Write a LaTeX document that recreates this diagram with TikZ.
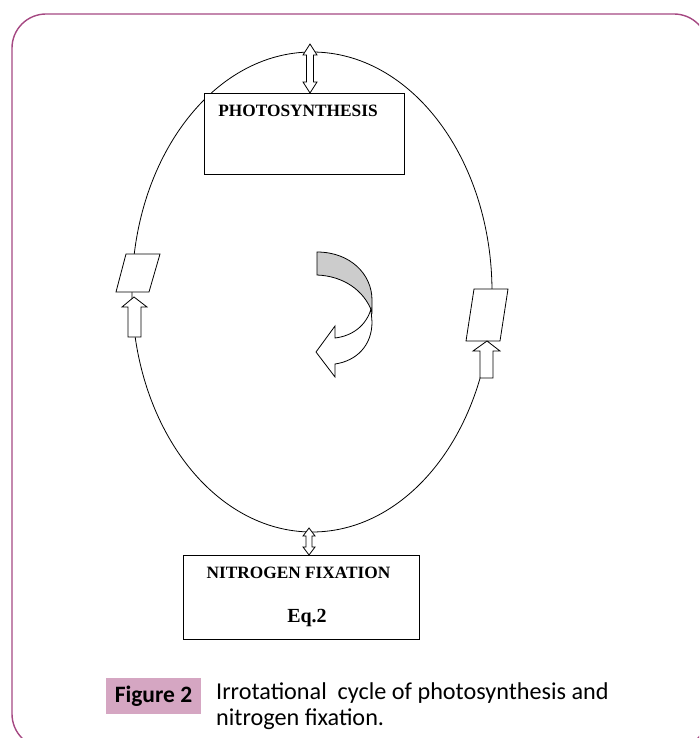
\documentclass[tikz,border=0pt]{standalone}
\usepackage{fontspec}
\setmainfont{Liberation Serif}
\newfontfamily\capfont{Carlito}
\definecolor{bordercol}{RGB}{165,72,130}
\definecolor{figpink}{RGB}{213,166,194}
\definecolor{ribbon}{RGB}{204,204,204}
\begin{document}
\begin{tikzpicture}[x=1pt,y=-1pt,line join=miter,
  thinline/.style={draw=black,line width=0.8pt},
  shapebox/.style={draw=black,fill=white,line width=0.9pt,inner sep=0pt},
  hollow/.style={draw=black,fill=white,line width=0.8pt},
  boxtext/.style={font=\bfseries\fontsize{17.3}{20}\selectfont,inner sep=0pt},
  captext/.style={font=\capfont\fontsize{24.2}{26.5}\selectfont,inner sep=0pt}]
\useasboundingbox (0,0) rectangle (699,738);
\begin{scope}
  \clip (0,0) rectangle (699,738);
  \draw[bordercol,line width=1.4pt,rounded corners=34pt] (12,14) rectangle (708,748);
\end{scope}
% cycle ellipse
\draw[thinline] (312,292) ellipse [x radius=180pt, y radius=240pt];
% boxes
\node[shapebox,minimum width=200pt,minimum height=81pt] (photo) at (304,133.5) {};
\node[boxtext] (phototxt) at (298,111) {PHOTOSYNTHESIS};
\node[shapebox,minimum width=236pt,minimum height=84pt] (nitro) at (301,597) {};
\node[boxtext] (nitrotxt) at (298.5,573) {NITROGEN FIXATION};
\node[font=\bfseries\fontsize{20}{22}\selectfont,inner sep=0pt] (eqtxt) at (307,618) {Eq.2};
% top double arrow
\draw[hollow] (310,44) -- (317,55) -- (313.5,55) -- (313.5,82) -- (317,82) -- (310,93)
  -- (303,82) -- (306.5,82) -- (306.5,55) -- (303,55) -- cycle;
% bottom double arrow
\draw[hollow] (309,528) -- (315,536) -- (312,536) -- (312,547) -- (315,547) -- (309,555)
  -- (303,547) -- (306,547) -- (306,536) -- (303,536) -- cycle;
% left parallelogram and arrow
\draw[hollow] (126,254) -- (160,254) -- (149,292) -- (116,292) -- cycle;
\draw[hollow] (134,297) -- (147,307) -- (141,307) -- (141,337) -- (128,337) -- (128,307) -- (122,307) -- cycle;
% right parallelogram and arrow
\draw[hollow] (474,289) -- (508,289) -- (500,341) -- (466,341) -- cycle;
\draw[hollow] (487,341) -- (500,351) -- (493,351) -- (493,378) -- (480,378) -- (480,351) -- (473,351) -- cycle;
% curved arrow: grey back part
\draw[thinline,fill=ribbon] (317,252) .. controls (350,252) and (372,274) .. (372,300) -- (372,312)
  .. controls (364,290) and (343,276) .. (317,275) -- cycle;
% curved arrow: white front part
\draw[hollow] (371,309) -- (372,322) .. controls (372,346) and (356,361) .. (335,364)
  -- (335,377) -- (316,352) -- (335,326) -- (335,338)
  .. controls (352,336) and (366,326) .. (371,309) -- cycle;
% caption
\node[fill=figpink,minimum width=95pt,minimum height=36pt,inner sep=0pt,
  font=\capfont\bfseries\fontsize{23.5}{27}\selectfont] (fig) at (153.5,696) {Figure 2};
\node[captext,anchor=north west,align=left] (cap) at (216,682)
  {Irrotational\ \ cycle of photosynthesis and\\nitrogen fixation.};
\end{tikzpicture}
\end{document}
